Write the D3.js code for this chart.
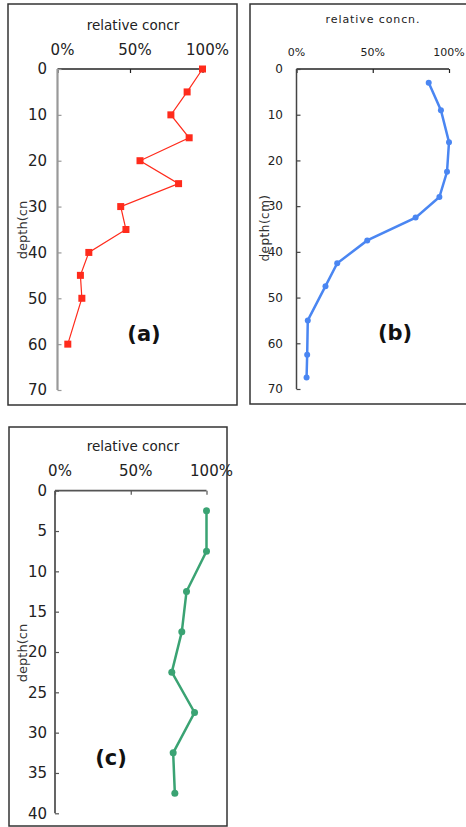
<!DOCTYPE html>
<html><head><meta charset="utf-8">
<script src="https://cdn.jsdelivr.net/npm/d3@7"></script>
<style>body{margin:0;background:#fff}svg{display:block}</style>
</head><body>
<script>
// Data
const depthA = [0,5,10,15,20,25,30,35,40,45,50,60];
const concA  = [1.00,0.894,0.782,0.908,0.569,0.835,0.436,0.472,0.216,0.158,0.168,0.071];
const depthB = [3,9,16,22.5,28,32.5,37.5,42.5,47.5,55,62.5,67.5];
const concB  = [0.867,0.947,1.00,0.987,0.937,0.781,0.464,0.267,0.19,0.074,0.07,0.066];
const depthC = [2.5,7.5,12.5,17.5,22.5,27.5,32.5,37.5];
const concC  = [1.00,1.00,0.868,0.837,0.771,0.921,0.78,0.791];
const xTicks = [0,0.5,1];
const xTickLabels = ["0%","50%","100%"];
const yTicksAB = [0,10,20,30,40,50,60,70];
const yTicksC = [0,5,10,15,20,25,30,35,40];

const svg = d3.select("body").append("svg").attr("width",466).attr("height",827);

function panel(o){
  const g = svg.append("g");
  g.append("rect").attr("x",o.frame[0]).attr("y",o.frame[1]).attr("width",o.frame[2]).attr("height",o.frame[3])
    .attr("fill","none").attr("stroke","#333").attr("stroke-width",1.5);
  const x = d3.scaleLinear().domain([0,1]).range(o.xr);
  const y = d3.scaleLinear().domain(o.ydom).range(o.yr);
  // x axis at top
  const xa = g.append("g").attr("transform",`translate(0,${o.yr[0]})`)
    .call(d3.axisBottom(x).tickValues(xTicks).tickSize(4).tickFormat(""));
  xa.select(".domain").remove();
  xa.selectAll(".tick line").attr("stroke",o.xAxisColor).attr("stroke-width",1.2);
  g.append("line").attr("x1",o.xr[0]).attr("x2",o.xr[1]).attr("y1",o.yr[0]).attr("y2",o.yr[0])
    .attr("stroke",o.xAxisColor).attr("stroke-width",o.xAxisW);
  // x tick labels
  g.selectAll(".xl").data(xTicks).join("text")
    .attr("x",(d)=>x(d)+o.xLabShift).attr("y",o.xLabY).attr("text-anchor","middle")
    .attr("font-family","DejaVu Sans").attr("font-size",o.xLabSize).attr("fill","#222")
    .attr("letter-spacing",o.xLabLS)
    .text((d,i)=>xTickLabels[i]);
  // y axis
  const ya = g.append("g").attr("transform",`translate(${o.xr[0]},0)`)
    .call(d3.axisRight(y).tickValues(o.yticks).tickSize(4).tickFormat(""));
  ya.select(".domain").remove();
  ya.selectAll(".tick line").attr("stroke",o.yAxisColor).attr("stroke-width",1.2);
  g.append("line").attr("x1",o.xr[0]).attr("x2",o.xr[0]).attr("y1",o.yr[0]).attr("y2",o.yr[1])
    .attr("stroke",o.yAxisColor).attr("stroke-width",o.yAxisW);
  g.selectAll(".yl").data(o.yticks).join("text")
    .attr("x",o.yLabX).attr("y",(d)=>y(d)).attr("dy","0.36em").attr("text-anchor","end")
    .attr("font-family","DejaVu Sans").attr("font-size",o.yLabSize).attr("fill","#222")
    .text((d)=>d);
  // titles
  g.append("text").attr("x",o.title[0]).attr("y",o.title[1]).attr("text-anchor","middle")
    .attr("font-family","DejaVu Sans").attr("font-size",o.titleSize).attr("fill","#222")
    .attr("letter-spacing",o.titleLS).text(o.titleText);
  g.append("text").attr("transform",`translate(${o.ylab[0]},${o.ylab[1]}) rotate(-90)`)
    .attr("text-anchor","middle").attr("dy","0.35em")
    .attr("font-family","DejaVu Sans").attr("font-size",o.ylabSize).attr("fill","#333")
    .attr("letter-spacing",o.ylabLS).text(o.ylabText);
  g.append("text").attr("x",o.tag[0]).attr("y",o.tag[1]).attr("text-anchor","middle")
    .attr("font-family","DejaVu Sans").attr("font-weight","bold").attr("font-size",21).attr("fill","#111")
    .text(o.tagText);
  // line
  const pts = o.depth.map((d,i)=>[o.conc[i],d]);
  g.append("path").datum(pts)
    .attr("d",d3.line().x(p=>x(p[0])).y(p=>y(p[1])))
    .attr("fill","none").attr("stroke",o.color).attr("stroke-width",o.lw);
  if(o.marker==="square"){
    g.selectAll(".m").data(pts).join("rect")
      .attr("x",p=>x(p[0])-3.5).attr("y",p=>y(p[1])-3.5).attr("width",7).attr("height",7)
      .attr("fill",o.color);
  } else {
    g.selectAll(".m").data(pts).join("circle")
      .attr("cx",p=>x(p[0])).attr("cy",p=>y(p[1])).attr("r",o.mr)
      .attr("fill",o.color);
  }
}

panel({frame:[8,4,229,401], xr:[57.5,202.5], yr:[69,390], ydom:[0,70], yticks:yTicksAB,
  xAxisColor:"#222", xAxisW:1.5, yAxisColor:"#999", yAxisW:2.2,
  xLabShift:5, xLabY:55, xLabSize:15, xLabLS:0,
  yLabX:47, yLabSize:15,
  title:[133,30], titleSize:13.5, titleLS:0, titleText:"relative concr",
  ylab:[22,230], ylabSize:13, ylabLS:0, ylabText:"depth(cn",
  tag:[144,341], tagText:"(a)",
  depth:depthA, conc:concA, color:"#ff2b1c", lw:1.2, marker:"square"});

panel({frame:[250,4,217,400], xr:[296.5,449], yr:[69,389], ydom:[0,70], yticks:yTicksAB,
  xAxisColor:"#222", xAxisW:1.5, yAxisColor:"#444", yAxisW:1.5,
  xLabShift:0, xLabY:56, xLabSize:11, xLabLS:0,
  yLabX:283, yLabSize:12,
  title:[373,23], titleSize:11, titleLS:0.9, titleText:"relative concn.",
  ylab:[265,228], ylabSize:12, ylabLS:0.5, ylabText:"depth(cm)",
  tag:[395,340], tagText:"(b)",
  depth:depthB, conc:concB, color:"#4a86f2", lw:2.5, marker:"circle", mr:3});

panel({frame:[9,427,218,399], xr:[55,206.5], yr:[490.7,813.3], ydom:[0,40], yticks:yTicksC,
  xAxisColor:"#555", xAxisW:1.8, yAxisColor:"#555", yAxisW:1.8,
  xLabShift:5, xLabY:476, xLabSize:15, xLabLS:0,
  yLabX:47, yLabSize:15,
  title:[133,451], titleSize:13.5, titleLS:0, titleText:"relative concr",
  ylab:[22,653], ylabSize:13, ylabLS:0, ylabText:"depth(cn",
  tag:[111,765], tagText:"(c)",
  depth:depthC, conc:concC, color:"#3aa373", lw:2.5, marker:"circle", mr:3.5});
</script>
</body></html>
